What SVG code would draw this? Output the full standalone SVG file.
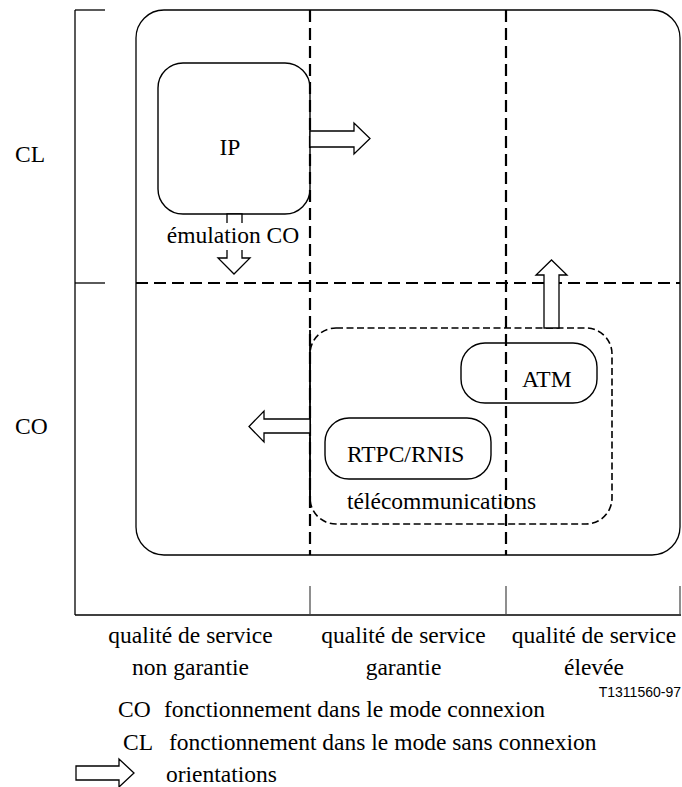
<svg xmlns="http://www.w3.org/2000/svg" width="682" height="787" viewBox="0 0 682 787">
<style>
  text { font-family: "Liberation Serif", "Times New Roman", serif; font-size: 23.5px; fill: #000; }
  .mid { text-anchor: middle; }
  .ref { font-family: "Liberation Sans", Arial, sans-serif; font-size: 14px; text-anchor: end; }
  .solid { fill: none; stroke: #000; stroke-width: 1.3; }
  .tick { fill: none; stroke: #444; stroke-width: 1.2; }
  .grid { fill: none; stroke: #000; stroke-width: 2.2; stroke-dasharray: 12 6; }
  .tele { fill: none; stroke: #000; stroke-width: 1.6; stroke-dasharray: 7 3.5; }
  .box { fill: none; stroke: #000; stroke-width: 1.4; }
  .arrow { fill: #fff; stroke: #000; stroke-width: 1.3; stroke-linejoin: miter; }
</style>
<rect width="682" height="787" fill="#fff"/>

<g id="axes">
  <line class="solid" x1="75" y1="10" x2="75" y2="615"/>
  <line class="solid" x1="75" y1="10" x2="105" y2="10"/>
  <line class="solid" x1="75" y1="283" x2="105" y2="283"/>
  <line class="solid" x1="75" y1="615" x2="681" y2="615"/>
  <line class="tick" x1="310" y1="586" x2="310" y2="615"/>
  <line class="tick" x1="506" y1="586" x2="506" y2="615"/>
  <line class="tick" x1="680" y1="586" x2="680" y2="615"/>
  <text x="15" y="162">CL</text>
  <text x="15" y="434">CO</text>
</g>

<g id="domain">
  <rect class="solid" x="136" y="10" width="544" height="545" rx="28" ry="28"/>
  <line class="grid" x1="310" y1="10" x2="310" y2="555"/>
  <line class="grid" x1="506" y1="10" x2="506" y2="555"/>
  <line class="grid" x1="136" y1="283" x2="680" y2="283"/>
</g>

<g id="telecom">
  <rect class="tele" x="310" y="328" width="302" height="196" rx="26" ry="26"/>
  <line class="solid" x1="310" y1="330" x2="310" y2="497" style="stroke-width:1.8"/>
  <text x="347" y="509">télécommunications</text>
</g>

<g id="ip">
  <rect class="box" x="158" y="63" width="152" height="151" rx="25" ry="25"/>
  <text class="mid" x="230" y="155">IP</text>
</g>

<g id="atm">
  <rect class="box" x="461" y="343" width="136" height="60" rx="24" ry="24"/>
  <text x="522" y="387">ATM</text>
</g>

<g id="rtpc">
  <rect class="box" x="325" y="418" width="166" height="61" rx="24" ry="24"/>
  <text x="347" y="462">RTPC/RNIS</text>
</g>

<g id="connectors">
  <polygon class="arrow" points="310,131 354,131 354,123 370,138.5 354,154 354,147 310,147"/>
  <polygon class="arrow" points="310,419 264,419 264,411 249,426.5 264,442 264,433 310,433"/>
  <polygon class="arrow" points="544,328 544,275 536,275 551.5,260 567,275 559,275 559,328"/>
  <polygon class="arrow" points="227,214 227,258 218,258 234,274 250,258 242,258 242,214"/>
  <rect x="166" y="223" width="134" height="27" fill="#fff"/>
  <text class="mid" x="233" y="243">émulation CO</text>
</g>

<g id="labels">
  <text class="mid" x="190.5" y="643">qualité de service</text>
  <text class="mid" x="190.5" y="675">non garantie</text>
  <text class="mid" x="403.5" y="643">qualité de service</text>
  <text class="mid" x="403.5" y="675">garantie</text>
  <text class="mid" x="594" y="643">qualité de service</text>
  <text class="mid" x="594" y="675">élevée</text>
  <text class="ref" x="681" y="697">T1311560-97</text>
</g>

<g id="legend">
  <text x="118" y="717">CO</text>
  <text x="164" y="717">fonctionnement dans le mode connexion</text>
  <text x="123" y="750">CL</text>
  <text x="169" y="750">fonctionnement dans le mode sans connexion</text>
  <polygon class="arrow" points="76,766 119,766 119,759 134,773 119,787 119,780 76,780"/>
  <text x="166" y="782">orientations</text>
</g>
</svg>
